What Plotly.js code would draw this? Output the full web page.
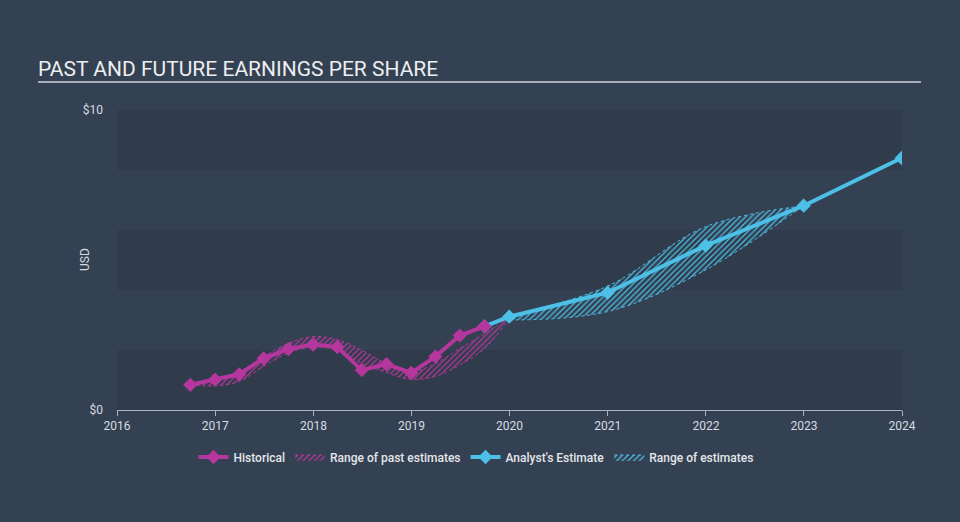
<!DOCTYPE html>
<html>
<head>
<meta charset="utf-8">
<script src="https://cdn.plot.ly/plotly-3.0.1.min.js"></script>
<style>html,body{margin:0;padding:0;background:#344152;}</style>
</head>
<body>
<div id="chart" style="width:960px;height:522px;"></div>
<script>
// Historical EPS
const histDates = ['2016-09-30','2016-12-31','2017-03-31','2017-06-30','2017-09-30','2017-12-31','2018-03-31','2018-06-30','2018-09-30','2018-12-31','2019-03-31','2019-06-30','2019-09-30'];
const histEPS = [0.84, 1.01, 1.19, 1.72, 2.03, 2.18, 2.10, 1.33, 1.53, 1.24, 1.78, 2.48, 2.79];
// Range of past estimates
const pastRangeDates = ['2016-09-30','2016-12-31','2017-03-31','2017-06-30','2017-09-30','2017-12-31','2018-03-31','2018-06-30','2018-09-30','2018-12-31','2019-03-31','2019-06-30','2019-09-30','2019-12-31'];
const pastRangeHigh = [0.86, 1.05, 1.28, 1.78, 2.22, 2.45, 2.35, 2.00, 1.55, 1.28, 1.55, 2.05, 2.55, 3.10];
const pastRangeLow  = [0.84, 0.80, 0.95, 1.45, 1.90, 2.10, 2.00, 1.55, 1.25, 1.02, 1.12, 1.50, 2.05, 3.05];
// Analyst estimates
const estDates = ['2019-09-30','2019-12-31','2020-12-31','2021-12-31','2022-12-31','2023-12-31'];
const estEPS = [2.79, 3.11, 3.91, 5.48, 6.81, 8.40];
// Range of estimates
const rangeDates = ['2019-12-31','2020-12-31','2021-12-31','2022-12-31'];
const rangeHigh = [3.12, 4.13, 6.11, 6.81];
const rangeLow  = [3.00, 3.28, 4.67, 6.81];
// Axis ticks
const yTickVals = [0, 10];
const yTickText = ['$0', '$10'];

const magenta = '#b5369c';
const cyan = '#4dc0e8';

const traces = [
  {x: pastRangeDates, y: pastRangeLow, type: 'scatter', mode: 'lines',
   line: {color: magenta, width: 1, dash: 'dot', shape: 'spline'}, showlegend: false, hoverinfo: 'skip'},
  {x: pastRangeDates, y: pastRangeHigh, type: 'scatter', mode: 'lines', name: 'Range of past estimates',
   line: {color: magenta, width: 1, dash: 'dot', shape: 'spline'}, fill: 'tonexty', fillcolor: 'rgba(0,0,0,0)',
   fillpattern: {shape: '/', fgcolor: magenta, bgcolor: 'rgba(0,0,0,0)', size: 4, solidity: 0.3}, legendrank: 2},
  {x: rangeDates, y: rangeLow, type: 'scatter', mode: 'lines',
   line: {color: cyan, width: 1, dash: 'dot', shape: 'spline'}, showlegend: false, hoverinfo: 'skip'},
  {x: rangeDates, y: rangeHigh, type: 'scatter', mode: 'lines', name: 'Range of estimates',
   line: {color: cyan, width: 1, dash: 'dot', shape: 'spline'}, fill: 'tonexty', fillcolor: 'rgba(0,0,0,0)',
   fillpattern: {shape: '/', fgcolor: cyan, bgcolor: 'rgba(0,0,0,0)', size: 4, solidity: 0.3}, legendrank: 4},
  {x: estDates, y: estEPS, type: 'scatter', mode: 'lines+markers', name: "Analyst's Estimate",
   line: {color: cyan, width: 4}, marker: {symbol: 'diamond', size: 11, color: cyan}, legendrank: 3},
  {x: histDates, y: histEPS, type: 'scatter', mode: 'lines+markers', name: 'Historical',
   line: {color: magenta, width: 4}, marker: {symbol: 'diamond', size: 11, color: magenta}, legendrank: 1}
];

const bandColor = '#303c4b';
const shapes = [
  {type: 'rect', xref: 'paper', yref: 'y', x0: 0, x1: 1, y0: 0, y1: 2, fillcolor: bandColor, line: {width: 0}, layer: 'below'},
  {type: 'rect', xref: 'paper', yref: 'y', x0: 0, x1: 1, y0: 4, y1: 6, fillcolor: bandColor, line: {width: 0}, layer: 'below'},
  {type: 'rect', xref: 'paper', yref: 'y', x0: 0, x1: 1, y0: 8, y1: 10, fillcolor: bandColor, line: {width: 0}, layer: 'below'},
  {type: 'line', xref: 'paper', yref: 'paper', x0: -0.1006, x1: 1.0242, y0: 1.0933, y1: 1.0933, line: {color: '#a7aeb8', width: 2}}
];

const layout = {
  width: 960, height: 522,
  paper_bgcolor: '#344152', plot_bgcolor: '#344152',
  margin: {l: 117, r: 58, t: 110, b: 112},
  font: {family: 'Roboto, sans-serif', color: '#d8dbe0', size: 12},
  title: {text: 'PAST AND FUTURE EARNINGS PER SHARE', xref: 'container', yref: 'container',
          x: 38/960, xanchor: 'left', y: 1 - 69/522, yanchor: 'middle',
          font: {family: 'Roboto, sans-serif', size: 21, color: '#eceef0'}},
  xaxis: {type: 'date', range: ['2016-01-01', '2024-01-01'], dtick: 'M12', tick0: '2016-01-01', tickformat: '%Y',
          showgrid: false, zeroline: false, showline: true, linecolor: '#aab2bd', linewidth: 1,
          ticks: 'outside', ticklen: 5, tickcolor: '#aab2bd', tickfont: {size: 12, color: '#d8dbe0'}},
  yaxis: {range: [0, 10], tickvals: yTickVals, ticktext: yTickText, showgrid: false, zeroline: false,
          showline: false, ticks: '', ticklabelstandoff: 13, tickfont: {size: 12, color: '#d8dbe0'}},
  annotations: [
    {text: 'USD', xref: 'paper', yref: 'paper', x: (85 - 117) / 785, y: 0.5, textangle: -90,
     showarrow: false, xanchor: 'center', yanchor: 'middle', font: {size: 12, color: '#d8dbe0'}}
  ],
  shapes: shapes,
  showlegend: true,
  legend: {orientation: 'h', xref: 'container', yref: 'container', x: 476/960, xanchor: 'center',
           y: 1 - 457/522, yanchor: 'middle', font: {size: 12, color: '#e4e6ea', weight: 500},
           bgcolor: 'rgba(0,0,0,0)', itemwidth: 30, tracegroupgap: 0, traceorder: 'normal'}
};

Plotly.newPlot('chart', traces, layout, {displayModeBar: false, staticPlot: true});
</script>
</body>
</html>
